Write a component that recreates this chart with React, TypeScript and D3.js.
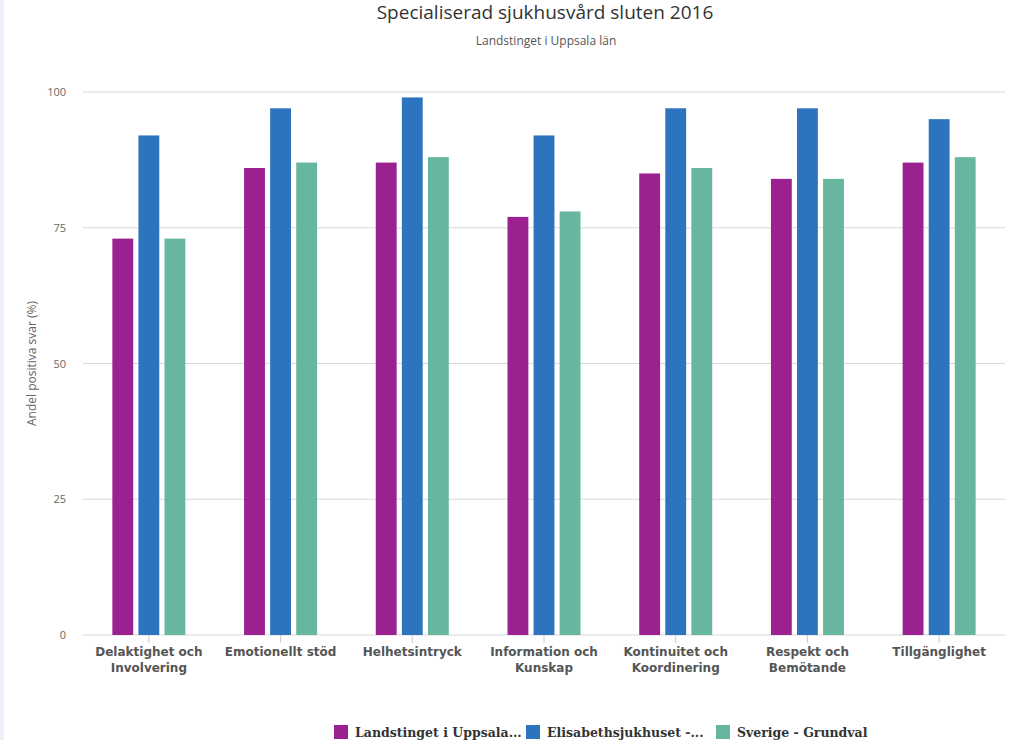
import React from "react";
import * as d3 from "d3";

const categories = [
  ["Delaktighet och", "Involvering"],
  ["Emotionellt stöd"],
  ["Helhetsintryck"],
  ["Information och", "Kunskap"],
  ["Kontinuitet och", "Koordinering"],
  ["Respekt och", "Bemötande"],
  ["Tillgänglighet"],
];
const seriesNames = ["Landstinget i Uppsala...", "Elisabethsjukhuset -...", "Sverige - Grundval"];
const landstinget = [73, 86, 87, 77, 85, 84, 87];
const elisabeth = [92, 97, 99, 92, 97, 97, 95];
const sverige = [73, 87, 88, 78, 86, 84, 88];
const yTicks = [0, 25, 50, 75, 100];
const colors = ["#9c2190", "#2d74bf", "#67b7a0"];

export default function App() {
  const W = 1024, H = 740;
  const left = 83, right = 1005, top = 92, bottom = 635;
  const series = [landstinget, elisabeth, sverige];
  const x0 = d3.scaleBand<number>().domain(d3.range(categories.length)).range([left, right]).paddingInner(0).paddingOuter(0);
  const bw = x0.bandwidth();
  const groupW = 73;
  const x1 = d3.scaleBand<number>().domain([0, 1, 2]).range([0, groupW]).paddingInner(0.2).paddingOuter(0);
  const y = d3.scaleLinear().domain([0, 100]).range([bottom, top]);
  const legendX = [334, 526, 716];
  return (
    <svg width={W} height={H} style={{ position: "absolute", left: 0, top: 0, background: "#fff" }}>
      <rect x={0} y={0} width={4} height={H} fill="#eceffa" />
      <text x={545} y={19} textAnchor="middle" fontFamily="'Open Sans', sans-serif" fontSize={19} fill="#333">Specialiserad sjukhusvård sluten 2016</text>
      <text x={546} y={45} textAnchor="middle" fontFamily="'Open Sans', sans-serif" fontSize={12} fill="#555">Landstinget i Uppsala län</text>
      {yTicks.map((t) => (
        <g key={t}>
          <line x1={left} x2={right} y1={y(t)} y2={y(t)} stroke="#d9d9d9" strokeWidth={1} />
          <text x={66} y={y(t) + 4} textAnchor="end" fontFamily="'Open Sans', sans-serif" fontSize={11} fill="#666">{t}</text>
        </g>
      ))}
      <text transform={`translate(36,${(top + bottom) / 2}) rotate(-90)`} textAnchor="middle" fontFamily="'Open Sans', sans-serif" fontSize={12} fill="#666">Andel positiva svar (%)</text>
      {categories.map((c, i) => {
        const gx = (x0(i) as number) + (bw - groupW) / 2;
        const cx = (x0(i) as number) + bw / 2;
        return (
          <g key={i}>
            {series.map((s, j) => (
              <rect key={j} x={gx + (x1(j) as number)} y={y(s[i])} width={x1.bandwidth()} height={y(0) - y(s[i])} fill={colors[j]} />
            ))}
            <line x1={cx} x2={cx} y1={bottom} y2={bottom + 8} stroke="#ccc" />
            {c.map((line, k) => (
              <text key={k} x={cx} y={656 + k * 16} textAnchor="middle" fontFamily="'DejaVu Sans', sans-serif" fontWeight="bold" fontSize={12} fill="#555">{line}</text>
            ))}
          </g>
        );
      })}
      {seriesNames.map((n, j) => (
        <g key={j}>
          <rect x={legendX[j]} y={725} width={14} height={14} fill={colors[j]} />
          <text x={legendX[j] + 21} y={737} fontFamily="'DejaVu Serif', serif" fontWeight="bold" fontSize={12.5} fill="#333">{n}</text>
        </g>
      ))}
    </svg>
  );
}
